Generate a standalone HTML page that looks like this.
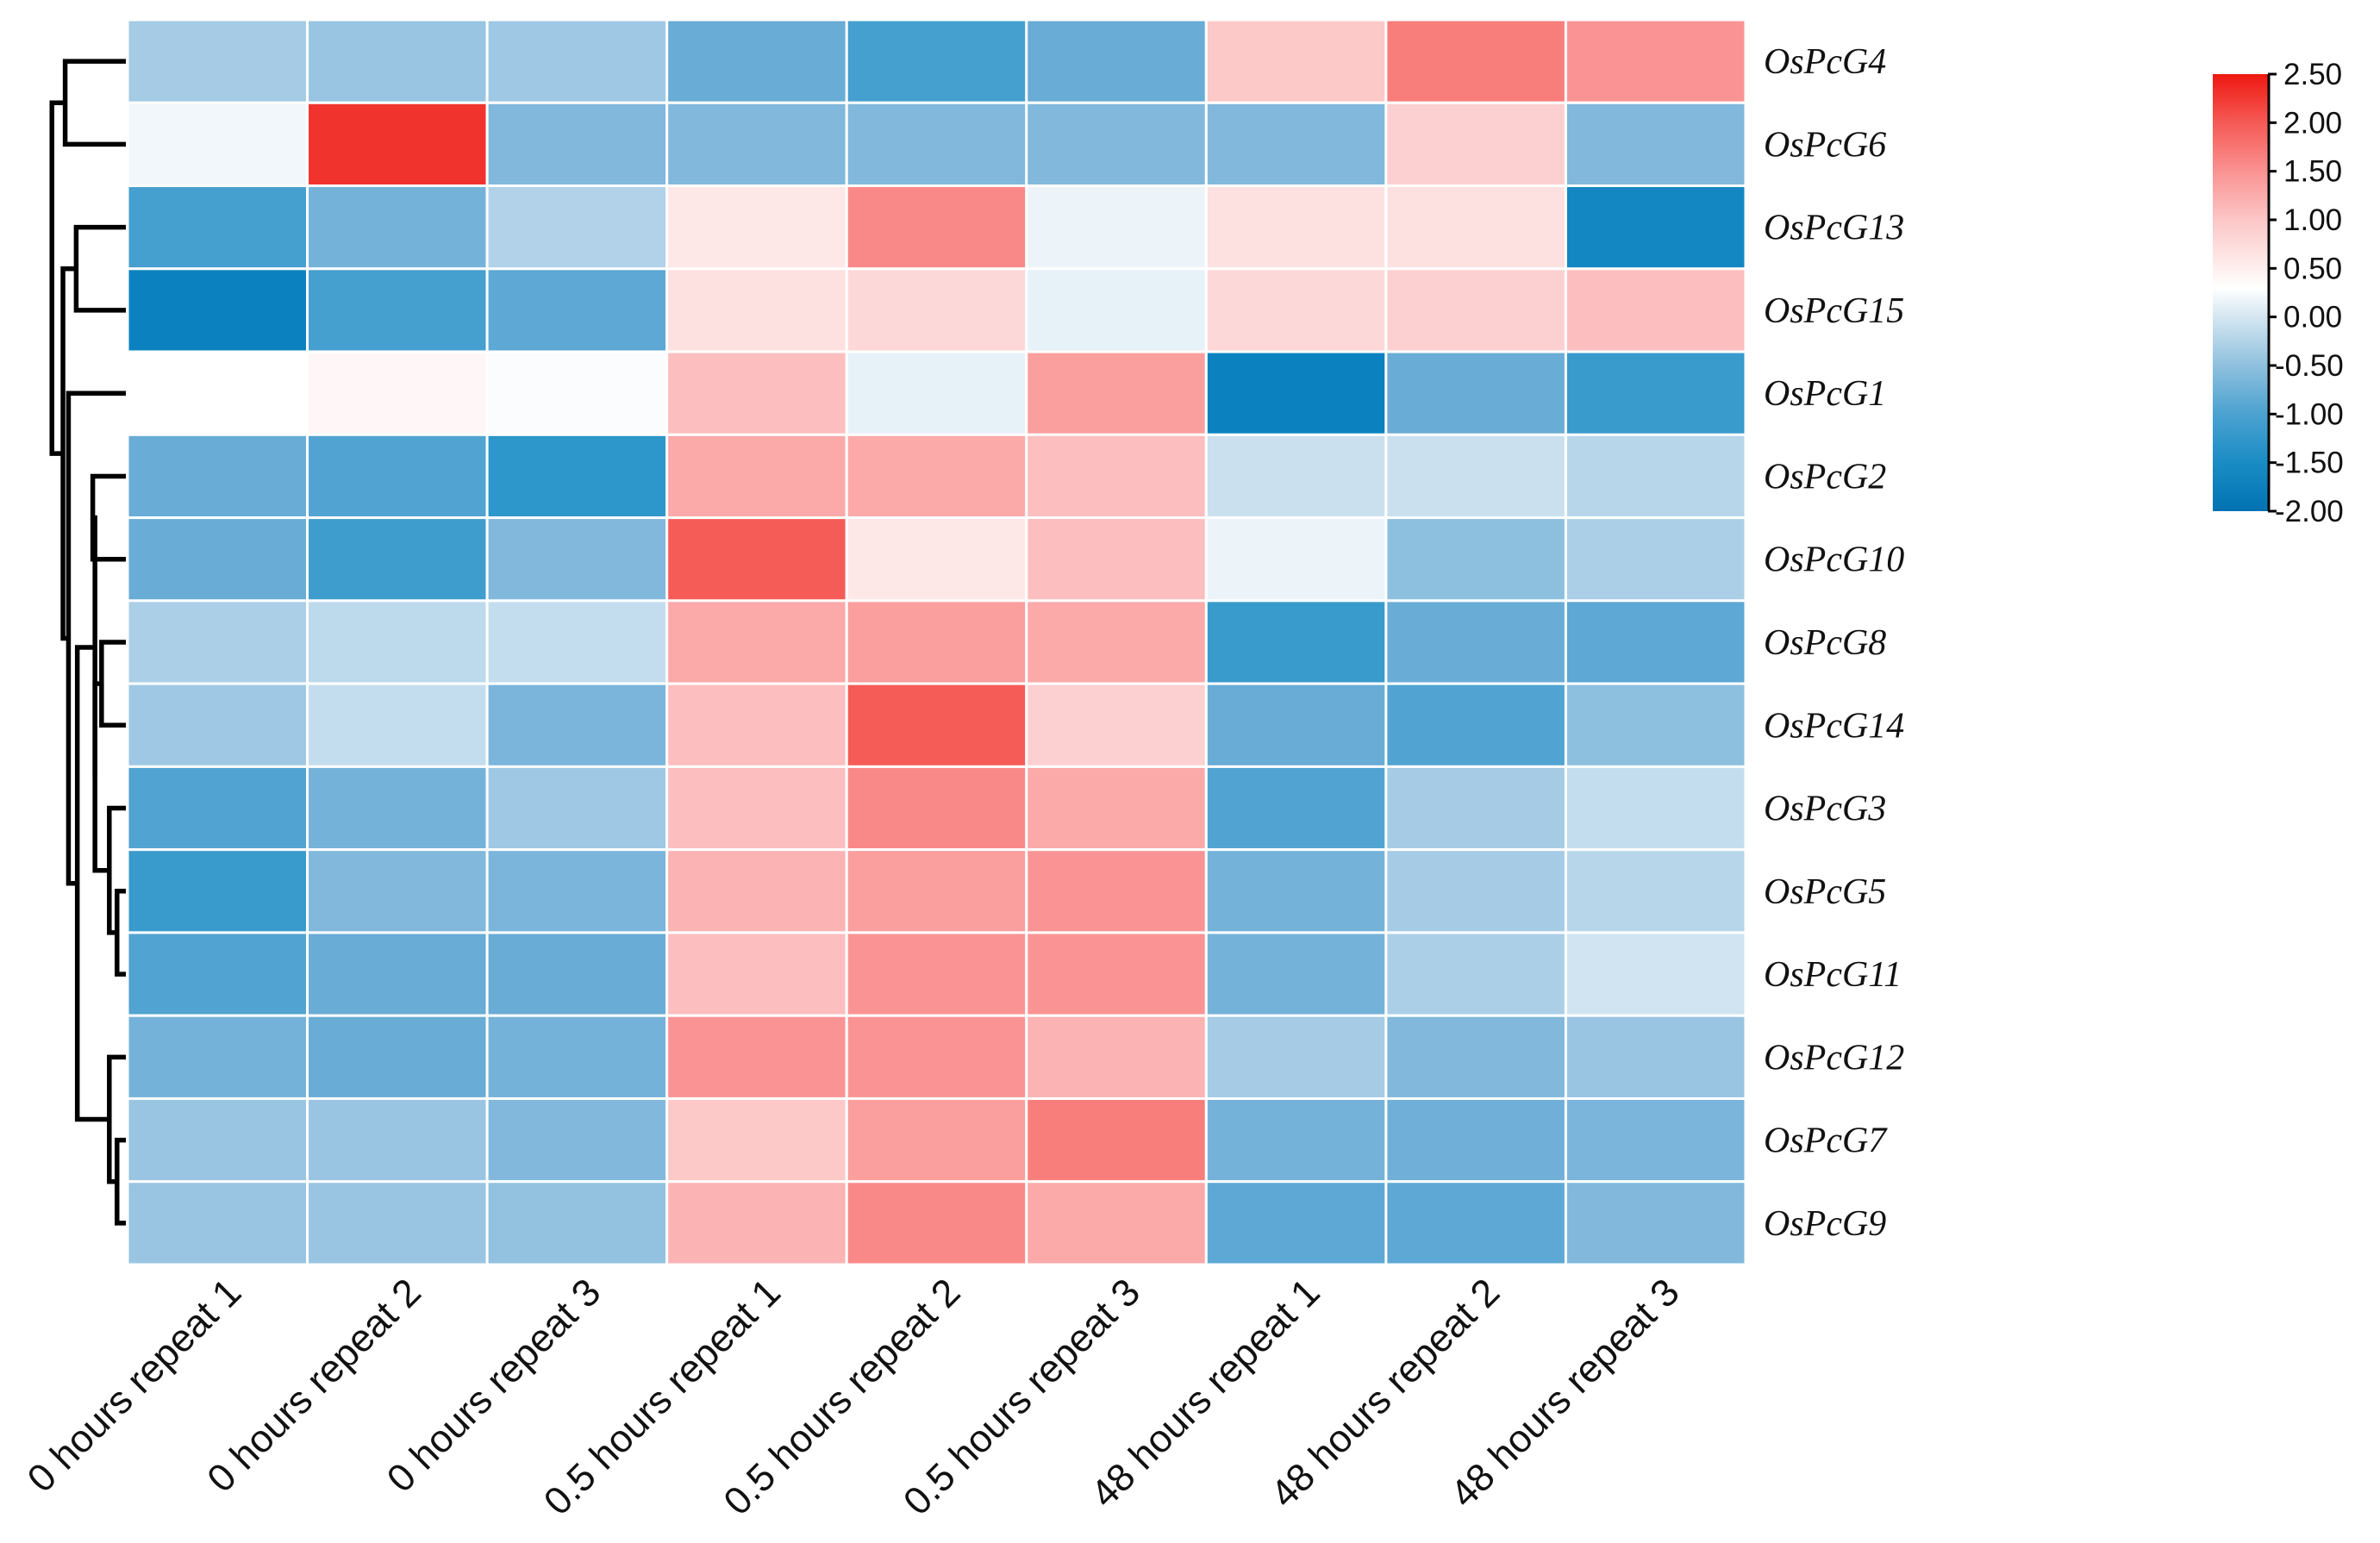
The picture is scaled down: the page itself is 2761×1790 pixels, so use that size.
<!DOCTYPE html>
<html><head><meta charset="utf-8"><style>
html,body{margin:0;padding:0;background:#fff;}
svg{display:block;}
</style></head><body>
<svg id="chart" width="2761" height="1790" viewBox="0 0 2761 1790" xmlns="http://www.w3.org/2000/svg">
<defs>
<linearGradient id="cbgrad" x1="0" y1="1" x2="0" y2="0">
<stop offset="0" stop-color="#0072b2"/>
<stop offset="0.111" stop-color="#1a8cc4"/>
<stop offset="0.222" stop-color="#4ba2d0"/>
<stop offset="0.333" stop-color="#8fc0de"/>
<stop offset="0.444" stop-color="#d4e6f1"/>
<stop offset="0.51" stop-color="#ffffff"/>
<stop offset="0.667" stop-color="#fcc6c6"/>
<stop offset="0.778" stop-color="#fa9292"/>
<stop offset="0.889" stop-color="#f55a55"/>
<stop offset="1" stop-color="#ee1811"/>
</linearGradient>
</defs>
<g id="dendro"></g>
<g id="cells"></g>
<g id="rowlabels"></g>
<g id="collabels"></g>
<g id="colorbar"></g>
</svg>
<script>
const rows = ["OsPcG4","OsPcG6","OsPcG13","OsPcG15","OsPcG1","OsPcG2","OsPcG10","OsPcG8","OsPcG14","OsPcG3","OsPcG5","OsPcG11","OsPcG12","OsPcG7","OsPcG9"];
const cols = ["0 hours repeat 1","0 hours repeat 2","0 hours repeat 3","0.5 hours repeat 1","0.5 hours repeat 2","0.5 hours repeat 3","48 hours repeat 1","48 hours repeat 2","48 hours repeat 3"];
const vG4  = [-0.5,-0.6,-0.55,-1.0,-1.3,-1.0,1.0,1.7,1.5];
const vG6  = [0.15,2.3,-0.8,-0.8,-0.8,-0.8,-0.8,0.9,-0.8];
const vG13 = [-1.3,-0.9,-0.4,0.6,1.6,0.1,0.7,0.7,-1.8];
const vG15 = [-1.9,-1.3,-1.1,0.7,0.8,0.05,0.8,0.9,1.1];
const vG1  = [0.3,0.4,0.25,1.1,0.05,1.4,-1.9,-1.0,-1.4];
const vG2  = [-1.0,-1.2,-1.5,1.3,1.3,1.1,-0.2,-0.2,-0.35];
const vG10 = [-1.0,-1.35,-0.8,2.0,0.6,1.1,0.1,-0.7,-0.45];
const vG8  = [-0.45,-0.3,-0.25,1.3,1.4,1.3,-1.4,-1.0,-1.1];
const vG14 = [-0.55,-0.25,-0.85,1.1,2.0,0.9,-1.0,-1.2,-0.7];
const vG3  = [-1.2,-0.9,-0.55,1.1,1.6,1.3,-1.2,-0.5,-0.25];
const vG5  = [-1.4,-0.8,-0.85,1.2,1.4,1.5,-0.9,-0.5,-0.35];
const vG11 = [-1.2,-1.0,-1.0,1.1,1.5,1.5,-0.9,-0.45,-0.15];
const vG12 = [-0.9,-1.0,-0.9,1.5,1.5,1.2,-0.5,-0.8,-0.6];
const vG7  = [-0.6,-0.6,-0.8,1.0,1.4,1.7,-0.9,-0.95,-0.85];
const vG9  = [-0.6,-0.6,-0.65,1.2,1.6,1.3,-1.1,-1.1,-0.8];
const values = [vG4,vG6,vG13,vG15,vG1,vG2,vG10,vG8,vG14,vG3,vG5,vG11,vG12,vG7,vG9];
const cbTicks = ["2.50","2.00","1.50","1.00","0.50","0.00","-0.50","-1.00","-1.50","-2.00"];
const cbMin = -2, cbMax = 2.5;
// dendrogram merges: [left, right, height] ; leaves = row index, nodes = "n#"
const merges = [[0,1,0.55],[2,3,0.45],[5,6,0.30],[7,8,0.22],[10,11,0.08],[13,14,0.08],[9,"n4",0.15],[12,"n5",0.15],["n3","n6",0.28],["n2","n8",0.28],["n7","n9",0.44],[4,"n10",0.52],["n1","n11",0.57],["n0","n12",0.67]];

const NS = "http://www.w3.org/2000/svg";
const X0 = 148, X1 = 2025, Y0 = 23, Y1 = 1467;
const cw = (X1 - X0) / cols.length, rh = (Y1 - Y0) / rows.length;
const xCol = i => X0 + i * cw;
const yRow = i => Y0 + i * rh;
const dendX0 = 146, dendX1 = 18;
const xH = h => dendX0 + (dendX1 - dendX0) * h;

const stops = [[-2,[2,125,188]],[-1.5,[45,150,202]],[-1,[105,172,214]],[-0.5,[165,203,229]],[0,[226,238,246]],[0.3,[255,255,255]],[1,[252,200,200]],[1.5,[250,148,148]],[2,[245,92,87]],[2.5,[238,24,17]]];
function color(v){
  v = Math.max(cbMin, Math.min(cbMax, v));
  for (let i = 0; i < stops.length - 1; i++){
    const [a, ca] = stops[i], [b, cb] = stops[i+1];
    if (v <= b){ const t = (v - a)/(b - a);
      return "rgb(" + ca.map((c,k)=>Math.round(c + (cb[k]-c)*t)).join(",") + ")"; }
  }
  return "rgb(238,24,17)";
}
function mk(tag, attrs, parent){
  const e = document.createElementNS(NS, tag);
  for (const k in attrs) e.setAttribute(k, attrs[k]);
  parent.appendChild(e); return e;
}
const gCells = document.getElementById("cells");
values.forEach((row, r) => row.forEach((v, c) => {
  const el = mk("rect", {x: xCol(c), y: yRow(r), width: cw, height: rh, fill: color(v), stroke: "#fff", "stroke-width": 3}, gCells);
  
  
}));
const gRL = document.getElementById("rowlabels");
rows.forEach((name, r) => {
  const t = mk("text", {x: 2046, y: yRow(r) + rh/2 + 14, "font-family": "Liberation Serif, serif", "font-style": "italic", "font-size": 42, fill: "#111"}, gRL);
  t.textContent = name;
  
  
});
const gCL = document.getElementById("collabels");
cols.forEach((name, c) => {
  const ax = xCol(c) + cw/2 + 30, ay = 1502;
  const t = mk("text", {x: ax, y: ay, "text-anchor": "end", transform: "rotate(-45 " + ax + " " + ay + ")", "font-family": "Liberation Sans, sans-serif", "font-size": 45, fill: "#111"}, gCL);
  t.textContent = name;
  
  
});
const gD = document.getElementById("dendro");
const nodeY = [], nodeH = [];
function pos(k){ return typeof k === "number" ? [yRow(k) + rh/2, 0] : [nodeY[+k.slice(1)], nodeH[+k.slice(1)]]; }
merges.forEach((m, i) => {
  const [ya, ha] = pos(m[0]), [yb, hb] = pos(m[1]), h = m[2];
  const x = xH(h);
  const p = mk("path", {d: "M" + xH(ha) + " " + ya + " H" + x + " V" + yb + " H" + xH(hb), fill: "none", stroke: "#000", "stroke-width": 5.5, "stroke-linejoin": "miter"}, gD);
  
  
  nodeY[i] = (ya + yb)/2; nodeH[i] = h;
});
const gCB = document.getElementById("colorbar");
const CBX = 2567, CBW = 64, CBT = 86, CBB = 593;
const cbY = v => CBB - (v - cbMin)/(cbMax - cbMin) * (CBB - CBT);
const bar = mk("rect", {x: CBX, y: CBT, width: CBW, height: CBB - CBT, fill: "url(#cbgrad)"}, gCB);


const axl = mk("line", {x1: CBX + CBW + 1, y1: CBT, x2: CBX + CBW + 1, y2: CBB, stroke: "#000", "stroke-width": 3}, gCB);


cbTicks.forEach(lbl => {
  const y = cbY(parseFloat(lbl));
  const tk = mk("line", {x1: CBX + CBW, y1: y, x2: CBX + CBW + 10, y2: y, stroke: "#000", "stroke-width": 3}, gCB);
  
  
  const t = mk("text", {x: lbl[0] === "-" ? CBX + CBW + 8 : CBX + CBW + 18, y: y + 12, "font-family": "Liberation Sans, sans-serif", "font-size": 35, fill: "#111"}, gCB);
  t.textContent = lbl;
  
  
});
</script>
</body></html>
